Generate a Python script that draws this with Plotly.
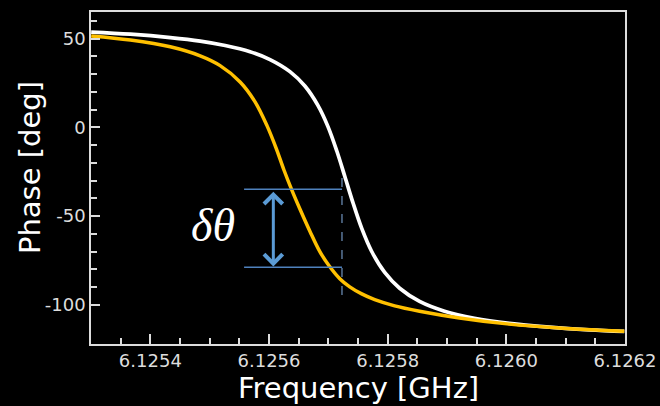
import plotly.graph_objects as go

# ---- data ----
freq_white = [6.1253003, 6.1253664, 6.1254336, 6.1254840, 6.1255261, 6.1255681, 6.1256017,
              6.1256353, 6.1256605, 6.1256824, 6.1256992, 6.1257143, 6.1257277, 6.1257412,
              6.1257563, 6.1257731, 6.1257950, 6.1258202, 6.1258538, 6.1258958, 6.1259462,
              6.1260050, 6.1260723, 6.1261395, 6.1261988]
phase_white = [53.7, 52.5, 50.6, 48.6, 46.1, 42.6, 38.2,
               31.4, 23.3, 12.4, 0.6, -13.3, -27.5, -42.1,
               -56.9, -69.9, -81.7, -90.6, -98.0, -103.5, -107.5,
               -110.4, -112.5, -114.0, -114.9]

freq_yellow = [6.1253003, 6.1253664, 6.1254336, 6.1254840, 6.1255176, 6.1255513, 6.1255765,
               6.1255966, 6.1256118, 6.1256252, 6.1256387, 6.1256521, 6.1256689, 6.1256857,
               6.1257025, 6.1257193, 6.1257361, 6.1257563, 6.1257782, 6.1258118, 6.1258538,
               6.1259210, 6.1260050, 6.1260891, 6.1261563, 6.1261988]
phase_yellow = [51.5, 49.2, 45.4, 40.3, 34.8, 25.6, 14.4,
                1.0, -11.5, -24.0, -35.5, -46.0, -58.5, -70.0,
                -78.5, -85.2, -89.8, -93.8, -97.0, -100.5, -103.5,
                -107.3, -110.8, -113.0, -114.2, -114.8]

x_tickvals = [6.1254, 6.1256, 6.1258, 6.1260, 6.1262]
x_ticktext = ["6.1254", "6.1256", "6.1258", "6.1260", "6.1262"]
x_minor = [6.12535 + 0.00005 * i for i in range(18)]
y_tickvals = [50, 0, -50, -100]
y_ticktext = ["50", "0", "-50", "-100"]
y_minor = list(range(-100, 61, 10))

# annotation geometry (data units)
dtheta_top = -34.9
dtheta_bottom = -78.8
bracket_x0 = 6.125558
bracket_x1 = 6.125723
arrow_x = 6.1256073
dash_y0 = -28.5
dash_y1 = -98.9

axis_col = "#DDDDDD"

fig = go.Figure()
fig.add_trace(go.Scatter(x=freq_white, y=phase_white, mode="lines",
                         line=dict(color="#FFFFFF", width=3.7, shape="spline", smoothing=1.0),
                         showlegend=False, hoverinfo="skip"))
fig.add_trace(go.Scatter(x=freq_yellow, y=phase_yellow, mode="lines",
                         line=dict(color="#FFC000", width=3.5, shape="spline", smoothing=1.0),
                         showlegend=False, hoverinfo="skip"))

# bracket lines
for yv in (dtheta_top, dtheta_bottom):
    fig.add_shape(type="line", xref="x", yref="y", x0=bracket_x0, x1=bracket_x1, y0=yv, y1=yv,
                  line=dict(color="#4F81BD", width=1.5))
fig.add_shape(type="line", xref="x", yref="y", x0=bracket_x1, x1=bracket_x1, y0=dash_y0, y1=dash_y1,
              line=dict(color="#6F93BE", width=1.2, dash="dash"))

# double arrow
fig.add_annotation(x=arrow_x, y=dtheta_bottom + 0.5, ax=arrow_x, ay=dtheta_top - 0.5,
                   xref="x", yref="y", axref="x", ayref="y", text="",
                   showarrow=True, arrowhead=4, startarrowhead=4, arrowside="end+start",
                   arrowsize=1.2, startarrowsize=1.2, arrowwidth=3, arrowcolor="#5B9BD5",
                   standoff=0, startstandoff=0)

fig.add_annotation(x=6.1255059, y=-55, xref="x", yref="y", text="<i>δθ</i>", showarrow=False,
                   font=dict(family="Liberation Serif", size=46, color="#FFFFFF"))

# axis titles
fig.add_annotation(x=0.5, y=-0.1325, xref="paper", yref="paper", text="Frequency [GHz]",
                   showarrow=False, xanchor="center", yanchor="middle",
                   font=dict(family="DejaVu Sans", size=29, color="#FFFFFF"))
fig.add_annotation(x=-0.1142, y=0.53, xref="paper", yref="paper", text="Phase [deg]",
                   showarrow=False, xanchor="center", yanchor="middle", textangle=-90,
                   font=dict(family="DejaVu Sans", size=29, color="#FFFFFF"))

fig.update_layout(
    width=660, height=406,
    margin=dict(l=91, r=35, t=12, b=62, autoexpand=False),
    paper_bgcolor="#000000", plot_bgcolor="#000000",
    font=dict(family="DejaVu Sans", color=axis_col),
    xaxis=dict(range=[6.1253, 6.1262], showgrid=False, zeroline=False, automargin=False,
               showline=True, linecolor=axis_col, linewidth=1.5, mirror=True,
               ticks="inside", ticklen=10, tickwidth=1.5, tickcolor=axis_col,
               tickmode="array", tickvals=x_tickvals, ticktext=x_ticktext,
               tickfont=dict(size=18, color=axis_col),
               minor=dict(ticks="inside", ticklen=6, tickwidth=1.5, tickcolor=axis_col,
                          tickmode="array", tickvals=x_minor)),
    yaxis=dict(range=[-122, 65], showgrid=False, zeroline=False, automargin=False,
               showline=True, linecolor=axis_col, linewidth=1.5, mirror=True,
               ticks="inside", ticklen=9, tickwidth=1.5, tickcolor=axis_col,
               tickmode="array", tickvals=y_tickvals, ticktext=y_ticktext,
               tickfont=dict(size=18, color=axis_col),
               minor=dict(ticks="inside", ticklen=6, tickwidth=1.5, tickcolor=axis_col,
                          tickmode="array", tickvals=y_minor)),
)

fig.write_html("out.html", config={"displayModeBar": False},
               post_script="document.body.style.margin='0';document.body.style.background='#000';")
